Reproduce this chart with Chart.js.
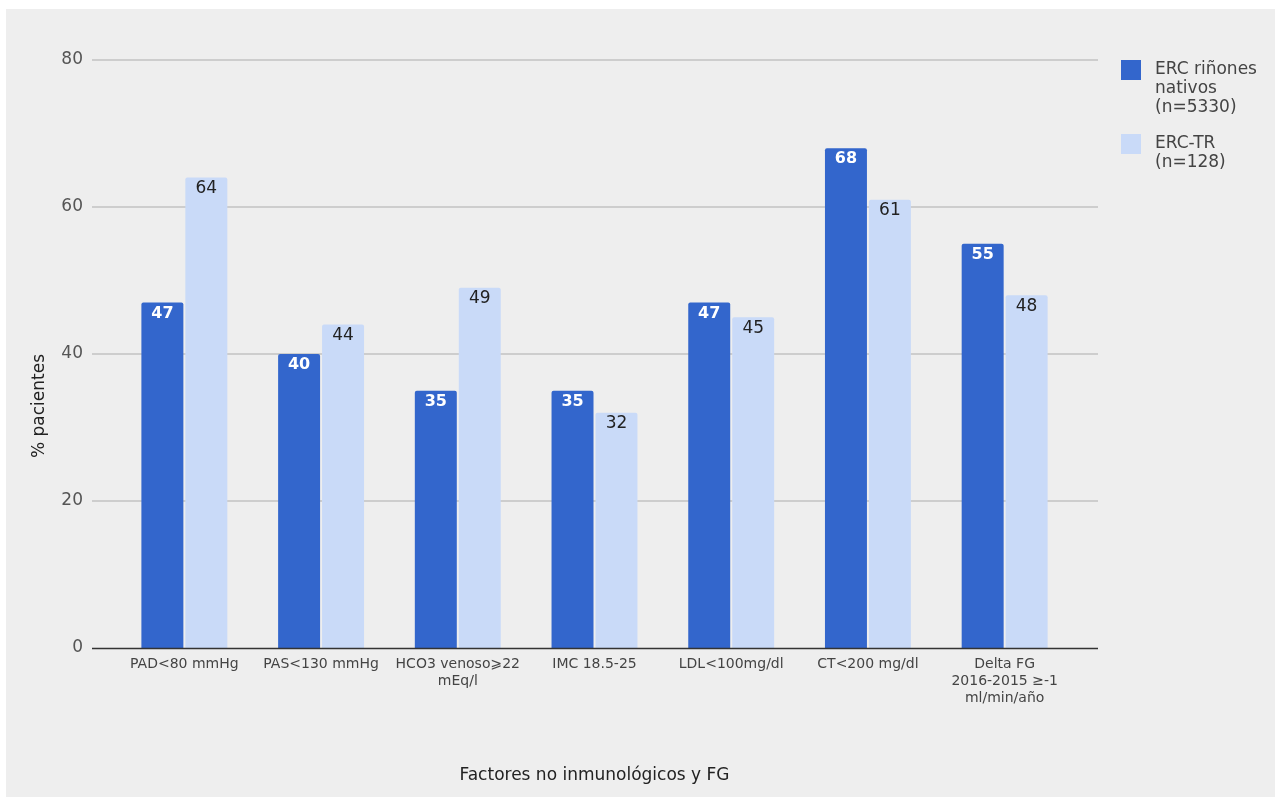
<!DOCTYPE html>
<html>
<head>
<meta charset="utf-8">
<script src="https://cdn.jsdelivr.net/npm/chart.js@4.4.0/dist/chart.umd.min.js"></script>
<style>
  body { margin: 0; padding: 9px 0 0 6px; background: #fff; }
  #wrap { width: 1269px; height: 788px; background: #eeeeee; }
</style>
</head>
<body>
<div id="wrap"><canvas id="factoresChart"></canvas></div>
<script>
// data
var categories = [
    'PAD<80 mmHg',
    'PAS<130 mmHg',
    ['HCO3 venoso\u2A7E22', 'mEq/l'],
    'IMC 18.5-25',
    'LDL<100mg/dl',
    'CT<200 mg/dl',
    ['Delta FG', '2016-2015 \u2265-1', 'ml/min/año']
];
var nativos = [47, 40, 35, 35, 47, 68, 55];
var trasplante = [64, 44, 49, 32, 45, 61, 48];
var seriesNames = [['ERC riñones', 'nativos', '(n=5330)'], ['ERC-TR', '(n=128)']];
var seriesColors = ['#3366cc', '#c9daf8'];
var yTicks = [0, 20, 40, 60, 80];
var xTitle = 'Factores no inmunológicos y FG';
var yTitle = '% pacientes';

var FONT = "'DejaVu Sans', Verdana, sans-serif";

// grid lines run a bit wider than the bars, like the original
var gridPlugin = {
    id: 'gridPlugin',
    beforeDatasetsDraw: function(chart) {
        var ctx = chart.ctx, y = chart.scales.y, area = chart.chartArea;
        ctx.save();
        ctx.strokeStyle = '#c2c2c2';
        ctx.lineWidth = 1.5;
        y.ticks.forEach(function(t) {
            if (t.value === 0) return;
            var py = Math.round(y.getPixelForValue(t.value));
            ctx.beginPath();
            ctx.moveTo(area.left - 24, py);
            ctx.lineTo(area.right + 25, py);
            ctx.stroke();
        });
        ctx.restore();
    },
    afterDatasetsDraw: function(chart) {
        var ctx = chart.ctx, y = chart.scales.y, area = chart.chartArea;
        ctx.save();
        // baseline
        var py = Math.round(y.getPixelForValue(0)) + 0.5;
        ctx.strokeStyle = '#333333';
        ctx.lineWidth = 1.5;
        ctx.beginPath();
        ctx.moveTo(area.left - 24, py);
        ctx.lineTo(area.right + 25, py);
        ctx.stroke();

        // value labels inside the bars
        ctx.textAlign = 'center';
        ctx.textBaseline = 'middle';
        chart.data.datasets.forEach(function(ds, i) {
            var meta = chart.getDatasetMeta(i);
            ctx.font = (i === 0 ? 'bold 16px ' : '17px ') + FONT;
            ctx.fillStyle = i === 0 ? '#ffffff' : '#222222';
            meta.data.forEach(function(bar, j) {
                ctx.fillText(String(ds.data[j]), bar.x, bar.y + 11);
            });
        });

        // y axis title, a little below the middle like the original
        ctx.save();
        ctx.translate(34, 397);
        ctx.rotate(-Math.PI / 2);
        ctx.font = '17px ' + FONT;
        ctx.fillStyle = '#222222';
        ctx.fillText(yTitle, 0, 0);
        ctx.restore();

        // legend on the right
        ctx.textAlign = 'left';
        ctx.font = '17px ' + FONT;
        var lx = area.right + 48, top = area.top;
        var itemTops = [0, 74];
        seriesNames.forEach(function(lines, i) {
            var t = top + itemTops[i];
            ctx.fillStyle = seriesColors[i];
            ctx.fillRect(lx, t, 20, 20);
            ctx.fillStyle = '#444444';
            lines.forEach(function(line, k) {
                ctx.fillText(line, lx + 34, t + 10 + k * 19);
            });
        });
        ctx.restore();
    }
};

document.addEventListener('DOMContentLoaded', function() {
    var ctx = document.getElementById('factoresChart').getContext('2d');
    var factoresChart = new Chart(ctx, {
        type: 'bar',
        data: {
            labels: categories,
            datasets: [{
                label: seriesNames[0].join(' '),
                data: nativos,
                backgroundColor: seriesColors[0],
                borderRadius: 2,
                borderSkipped: 'bottom'
            }, {
                label: seriesNames[1].join(' '),
                data: trasplante,
                backgroundColor: seriesColors[1],
                borderRadius: 2,
                borderSkipped: 'bottom'
            }]
        },
        options: {
            responsive: true,
            maintainAspectRatio: false,
            animation: false,
            categoryPercentage: 0.643,
            barPercentage: 0.955,
            layout: {
                padding: { top: 51, right: 202, bottom: 0, left: 0 }
            },
            plugins: {
                legend: { display: false },
                tooltip: { enabled: false }
            },
            scales: {
                x: {
                    grid: { display: false, drawTicks: false },
                    border: { display: false },
                    ticks: {
                        padding: 8,
                        color: '#444444',
                        maxRotation: 0,
                        autoSkip: false,
                        font: { family: FONT, size: 14 }
                    },
                    title: {
                        display: true,
                        text: xTitle,
                        color: '#222222',
                        font: { family: FONT, size: 17 },
                        padding: { top: 0, bottom: 11 }
                    },
                    afterFit: function(scale) { scale.height = 149; }
                },
                y: {
                    min: yTicks[0],
                    max: yTicks[yTicks.length - 1],
                    grid: { display: false, drawTicks: false },
                    border: { display: false },
                    ticks: {
                        stepSize: yTicks[1] - yTicks[0],
                        padding: 33,
                        color: '#555555',
                        font: { family: FONT, size: 17 }
                    },
                    afterFit: function(scale) { scale.width = 110; }
                }
            }
        },
        plugins: [gridPlugin]
    });
});
</script>
</body>
</html>
